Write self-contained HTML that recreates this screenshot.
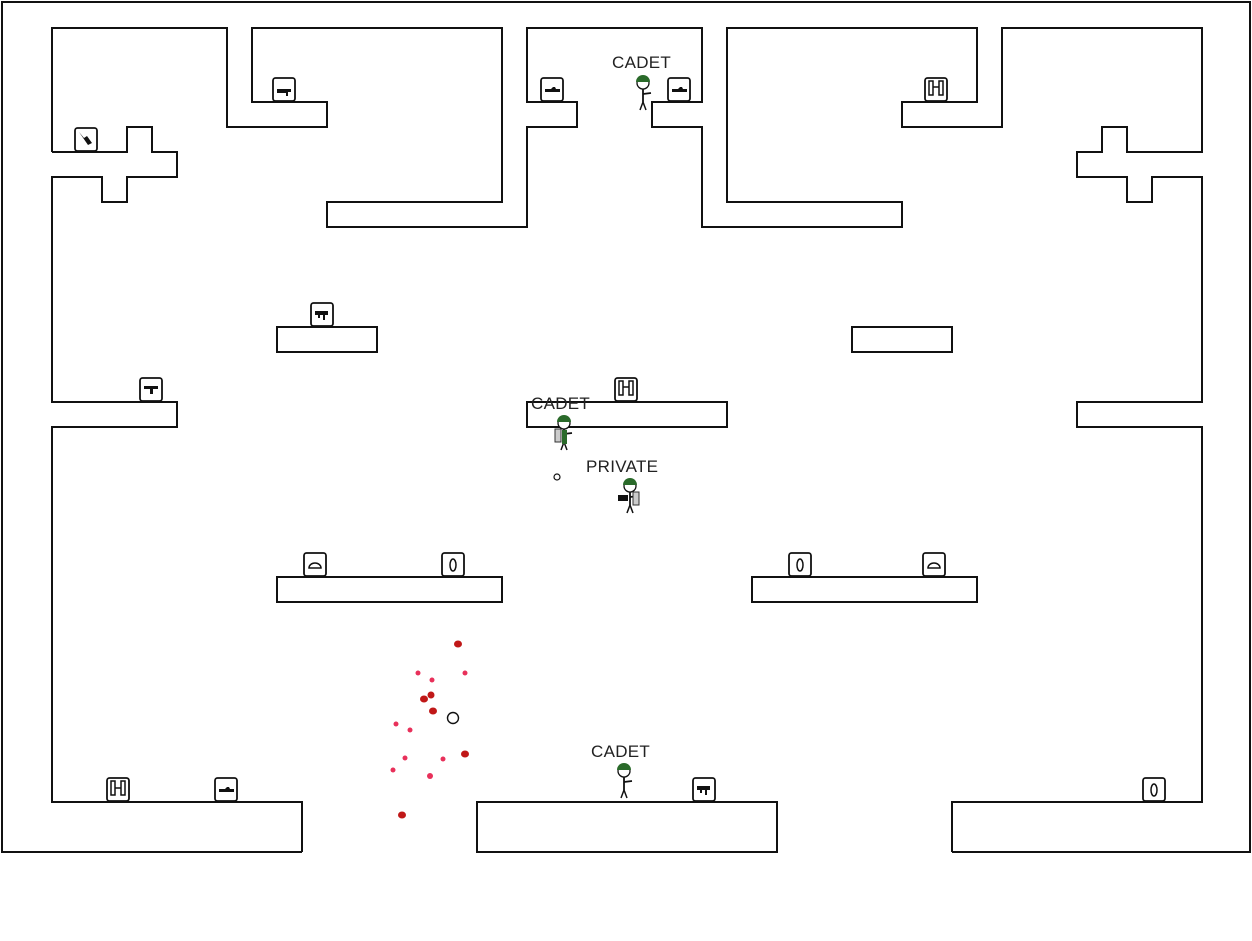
<!DOCTYPE html>
<html><head><meta charset="utf-8"><style>
html,body{margin:0;padding:0;background:#fff;width:1252px;height:941px;overflow:hidden}
svg{display:block}
text{font-family:"Liberation Sans",sans-serif;font-size:17px;fill:#222;letter-spacing:0.3px}
</style></head><body>
<svg width="1252" height="941" viewBox="0 0 1252 941" xmlns="http://www.w3.org/2000/svg">
<defs>
<g id="box"><rect x="-11" y="-24" width="22" height="23" rx="2.5" fill="#fff" stroke="#111" stroke-width="1.8"/></g>
<g id="sold">
 <circle cx="0" cy="0" r="6" fill="#fff" stroke="#111" stroke-width="1.3"/>
 <path d="M-7,-1 A7,7 0 0 1 7,-1 Z" fill="#2a6a2a"/>
 <line x1="0" y1="6" x2="0" y2="19" stroke="#111" stroke-width="1.8"/>
 <line x1="0" y1="11" x2="8" y2="10" stroke="#111" stroke-width="1.8"/>
 <line x1="0" y1="19" x2="-3" y2="27" stroke="#111" stroke-width="1.5"/>
 <line x1="0" y1="19" x2="3" y2="27" stroke="#111" stroke-width="1.5"/>
</g>
</defs>
<g fill="none" stroke="#111" stroke-width="2" stroke-linejoin="miter">
<polyline points="302,852 2,852 2,2 1250,2 1250,852 952,852"/>
<polyline points="52,152 52,28 227,28 227,127 327,127 327,102 252,102 252,28 502,28 502,202 327,202 327,227 527,227 527,127 577,127 577,102 527,102 527,28 702,28 702,102 652,102 652,127 702,127 702,227 902,227 902,202 727,202 727,28 977,28 977,102 902,102 902,127 1002,127 1002,28 1202,28 1202,152 1127,152 1127,127 1102,127 1102,152 1077,152 1077,177 1127,177 1127,202 1152,202 1152,177 1202,177 1202,402 1077,402 1077,427 1202,427 1202,802 952,802 952,852"/>
<polyline points="52,152 127,152 127,127 152,127 152,152 177,152 177,177 127,177 127,202 102,202 102,177 52,177 52,402 177,402 177,427 52,427 52,802 302,802 302,852"/>
<rect x="477" y="802" width="300" height="50"/>
<rect x="277" y="327" width="100" height="25"/>
<rect x="852" y="327" width="100" height="25"/>
<rect x="527" y="402" width="200" height="25"/>
<rect x="277" y="577" width="225" height="25"/>
<rect x="752" y="577" width="225" height="25"/>
</g>
<g>
<use href="#box" x="86" y="152"/><path d="M79,132 l5,6 l3,-2 l5,7 l-4,2z" fill="#111"/>
<use href="#box" x="284" y="102"/><path d="M277,89 h14 v3 h-3 v4 h-2 v-3 h-9z" fill="#111"/>
<use href="#box" x="552" y="102"/><path d="M545,89 h6 l2,-2 h2 l1,2 h4 v3 h-15z" fill="#111"/>
<use href="#box" x="679" y="102"/><path d="M672,89 h6 l2,-2 h2 l1,2 h4 v3 h-15z" fill="#111"/>
<use href="#box" x="936" y="102"/><path d="M929,81 h4 v14 h-4z M939,81 h4 v14 h-4z M933,87 h6" fill="none" stroke="#111" stroke-width="1.5"/>
<use href="#box" x="322" y="327"/><path d="M315,311 h13 v4 h-3 v5 h-2 v-5 h-3 v3 h-2 v-3 h-3z" fill="#111"/>
<use href="#box" x="151" y="402"/><path d="M144,386 h14 v3 h-5 v5 h-3 v-5 h-6z" fill="#111"/>
<use href="#box" x="626" y="402"/><path d="M619,381 h4 v14 h-4z M629,381 h4 v14 h-4z M623,387 h6" fill="none" stroke="#111" stroke-width="1.5"/>
<use href="#box" x="315" y="577"/><path d="M309,568 a6,5 0 0 1 12,0 z" fill="none" stroke="#111" stroke-width="1.5"/>
<use href="#box" x="453" y="577"/><ellipse cx="453" cy="565" rx="3" ry="6" fill="none" stroke="#111" stroke-width="1.5"/>
<use href="#box" x="800" y="577"/><ellipse cx="800" cy="565" rx="3" ry="6" fill="none" stroke="#111" stroke-width="1.5"/>
<use href="#box" x="934" y="577"/><path d="M928,568 a6,5 0 0 1 12,0 z" fill="none" stroke="#111" stroke-width="1.5"/>
<use href="#box" x="118" y="802"/><path d="M111,781 h4 v14 h-4z M121,781 h4 v14 h-4z M115,788 h6" fill="none" stroke="#111" stroke-width="1.5"/>
<use href="#box" x="226" y="802"/><path d="M219,789 h6 l2,-2 h2 l1,2 h4 v3 h-15z" fill="#111"/>
<use href="#box" x="704" y="802"/><path d="M697,786 h13 v4 h-3 v5 h-2 v-5 h-3 v3 h-2 v-3 h-3z" fill="#111"/>
<use href="#box" x="1154" y="802"/><ellipse cx="1154" cy="790" rx="3" ry="6" fill="none" stroke="#111" stroke-width="1.5"/>
</g>
<use href="#sold" x="643" y="83"/>
<g><use href="#sold" x="564" y="423"/><rect x="555" y="429" width="6" height="13" fill="#ccc" stroke="#333"/><rect x="562" y="430" width="5" height="14" fill="#2a6a2a"/></g>
<g><use href="#sold" x="630" y="486"/><rect x="633" y="492" width="6" height="13" fill="#ccc" stroke="#333"/><rect x="618" y="495" width="10" height="6" fill="#111"/></g>
<use href="#sold" x="624" y="771"/>
<text x="612" y="68">CADET</text>
<text x="531" y="409">CADET</text>
<text x="586" y="472">PRIVATE</text>
<text x="591" y="757">CADET</text>
<circle cx="557" cy="477" r="3" fill="none" stroke="#111" stroke-width="1.2"/>
<circle cx="453" cy="718" r="5.5" fill="none" stroke="#111" stroke-width="1.4"/>
<g fill="#c01818">
<ellipse cx="458" cy="644" rx="4" ry="3.5"/><ellipse cx="424" cy="699" rx="4" ry="3.5"/><ellipse cx="431" cy="695" rx="3.5" ry="3.5"/>
<ellipse cx="433" cy="711" rx="4" ry="3.5"/><ellipse cx="465" cy="754" rx="4" ry="3.5"/><ellipse cx="402" cy="815" rx="4" ry="3.5"/>
</g>
<g fill="#e8305a">
<circle cx="432" cy="680" r="2.5"/><circle cx="418" cy="673" r="2.5"/><circle cx="465" cy="673" r="2.5"/>
<circle cx="396" cy="724" r="2.5"/><circle cx="410" cy="730" r="2.5"/><circle cx="405" cy="758" r="2.5"/>
<circle cx="393" cy="770" r="2.5"/><circle cx="443" cy="759" r="2.5"/><circle cx="430" cy="776" r="3"/>
</g>
</svg>
</body></html>
